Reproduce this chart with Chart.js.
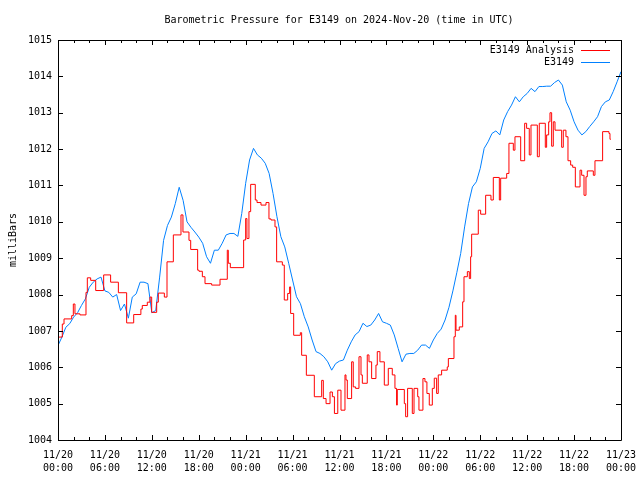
<!DOCTYPE html>
<html>
<head>
<meta charset="utf-8">
<script src="https://cdn.jsdelivr.net/npm/chart.js@4.4.1/dist/chart.umd.min.js"></script>
<style>
  body { margin: 0; background: #ffffff; }
</style>
</head>
<body>
<canvas id="grafico" width="640" height="480"></canvas>
<script>
// hours since 2024-11-20 00:00 UTC
let tituloGrafico = "Barometric Pressure for E3149 on 2024-Nov-20 (time in UTC)";
let tituloY = "milliBars";
let nomesSeries = ["E3149 Analysis", "E3149"];

let rotulosX = [
  ["11/20", "00:00"], ["11/20", "06:00"], ["11/20", "12:00"], ["11/20", "18:00"],
  ["11/21", "00:00"], ["11/21", "06:00"], ["11/21", "12:00"], ["11/21", "18:00"],
  ["11/22", "00:00"], ["11/22", "06:00"], ["11/22", "12:00"], ["11/22", "18:00"],
  ["11/23", "00:00"]
];
let rotulosY = ["1004", "1005", "1006", "1007", "1008", "1009", "1010", "1011", "1012", "1013", "1014", "1015"];

// analysis: step starts (hours) and values
let horasAnalise = [
  0, 0.55, 0.77, 1.75, 1.96, 2.17, 2.81, 3.58, 3.75, 4.18, 4.82, 5.84, 6.73, 7.72, 8.78, 9.68,
  10.6, 10.78, 11.42, 11.76, 11.98, 12.62, 12.83, 13.6, 13.94, 14.75, 15.73, 15.98, 16.75, 16.97,
  17.86, 18.03, 18.46, 18.8, 19.65, 20.72, 21.65, 21.78, 22.04, 23.74, 24.0, 24.16, 24.42, 24.64,
  25.23, 25.45, 25.96, 26.6, 26.98, 27.24, 27.75, 27.96, 28.69, 28.94, 29.37, 29.62, 29.75, 30.14,
  30.99, 31.16, 31.76, 32.78, 33.72, 33.93, 34.28, 34.79, 35.09, 35.35, 35.78, 36.19, 36.7, 36.83,
  37.0, 37.55, 37.76, 38.06, 38.49, 38.75, 38.92, 39.55, 39.77, 40.11, 40.66, 40.83, 41.17, 41.73,
  42.24, 42.75, 43.09, 43.3, 43.39, 44.29, 44.46, 44.71, 45.31, 45.53, 46.0, 46.16, 46.67, 46.93,
  47.18, 47.48, 47.87, 48.12, 48.42, 48.63, 49.06, 49.78, 49.92, 50.64, 50.81, 50.9, 51.32, 51.75,
  51.92, 52.35, 52.6, 52.77, 52.9, 53.75, 54.05, 54.69, 55.37, 55.67, 56.44, 56.61, 57.38, 57.67,
  58.23, 58.44, 59.17, 59.68, 59.93, 60.27, 60.49, 61.3, 61.55, 62.32, 62.49, 62.75, 62.92, 63.13,
  63.34, 63.56, 64.41, 64.62, 64.96, 65.22, 65.56, 65.82, 66.16, 66.76, 66.97, 67.27, 67.52, 67.69,
  68.46, 68.67, 69.65, 70.46, 70.59, 70.7
];
let pressaoAnalise = [
  1006.83, 1007.19, 1007.33, 1007.42, 1007.74, 1007.47, 1007.44, 1008.06, 1008.46, 1008.39, 1008.11, 1008.54, 1008.34, 1008.05, 1007.22, 1007.45,
  1007.6, 1007.7, 1007.79, 1007.93, 1007.51, 1007.79, 1008.04, 1007.93, 1008.9, 1009.64, 1010.19, 1009.72, 1009.49, 1009.24,
  1008.67, 1008.64, 1008.49, 1008.3, 1008.26, 1008.42, 1009.22, 1008.86, 1008.74, 1009.5, 1010.09, 1009.54, 1010.28, 1011.03,
  1010.6, 1010.53, 1010.46, 1010.53, 1010.08, 1010.05, 1009.86, 1008.9, 1008.81, 1007.85, 1008.03, 1008.21, 1007.48, 1006.88,
  1006.95, 1006.33, 1005.78, 1005.19, 1005.64, 1005.14, 1005.0, 1005.32, 1005.19, 1004.73, 1005.37, 1004.82, 1005.79, 1005.65,
  1005.14, 1006.15, 1005.46, 1005.42, 1006.29, 1005.79, 1005.56, 1006.34, 1006.15, 1005.69, 1006.06, 1006.43, 1006.15, 1005.51,
  1005.97, 1005.79, 1005.42, 1004.96, 1005.39, 1005.0, 1004.64, 1005.42, 1004.73, 1005.42, 1005.19, 1004.82, 1005.69, 1005.6,
  1005.28, 1004.96, 1005.42, 1005.7, 1005.28, 1005.79, 1005.92, 1006.01, 1006.24, 1006.84, 1007.43, 1007.02, 1007.11, 1007.8,
  1008.49, 1008.63, 1008.44, 1009.04, 1009.66, 1010.32, 1010.21, 1010.73, 1010.6, 1011.22, 1010.6, 1011.2, 1011.33, 1012.16,
  1011.97, 1012.34, 1011.68, 1012.71, 1012.57, 1011.84, 1012.66, 1011.79, 1012.71, 1012.05, 1012.39, 1012.75, 1013.0, 1012.08,
  1012.75, 1012.52, 1012.05, 1012.52, 1012.34, 1011.68, 1011.56, 1011.5, 1010.96, 1011.42, 1011.28, 1010.73, 1011.24, 1011.4,
  1011.28, 1011.68, 1012.48, 1012.43, 1012.27, 1012.27
];

// station: one reading every 30 minutes from 00:00
let pressaoEstacao = [
  1006.6, 1006.83, 1007.1, 1007.2, 1007.38, 1007.5, 1007.7, 1007.88, 1008.2, 1008.34, 1008.43, 1008.48,
  1008.1, 1008.06, 1007.93, 1008.0, 1007.56, 1007.74, 1007.35, 1007.93, 1008.02, 1008.34, 1008.34, 1008.3,
  1007.5, 1007.56, 1008.48, 1009.49, 1009.9, 1010.13, 1010.5, 1010.95, 1010.59, 1010.0, 1009.85, 1009.72,
  1009.58, 1009.41, 1009.04, 1008.86, 1009.22, 1009.22, 1009.41, 1009.64, 1009.68, 1009.68, 1009.6, 1010.23,
  1011.06, 1011.7, 1012.02, 1011.84, 1011.75, 1011.61, 1011.33, 1010.78, 1010.14, 1009.59, 1009.31, 1008.86,
  1008.4, 1007.94, 1007.75, 1007.39, 1007.11, 1006.75, 1006.43, 1006.38, 1006.29, 1006.15, 1005.92, 1006.1,
  1006.17, 1006.2, 1006.47, 1006.7, 1006.89, 1006.98, 1007.21, 1007.12, 1007.16, 1007.3, 1007.48, 1007.25,
  1007.21, 1007.16, 1006.89, 1006.52, 1006.15, 1006.36, 1006.38, 1006.38, 1006.47, 1006.61, 1006.61, 1006.52,
  1006.75, 1006.93, 1007.05, 1007.3, 1007.65, 1008.1, 1008.6, 1009.13, 1009.86, 1010.5, 1010.96, 1011.1,
  1011.47, 1012.02, 1012.2, 1012.43, 1012.5, 1012.39, 1012.8, 1013.03, 1013.21, 1013.44, 1013.3, 1013.44,
  1013.53, 1013.67, 1013.58, 1013.72, 1013.72, 1013.73, 1013.73, 1013.83, 1013.9, 1013.76, 1013.3, 1013.07,
  1012.75, 1012.52, 1012.39, 1012.48, 1012.62, 1012.75, 1012.89, 1013.17, 1013.3, 1013.35, 1013.58, 1013.85,
  1014.13
];

let corAnalise = "#ff0000";
let corEstacao = "#0080ff";
let fonte = "10px 'DejaVu Sans Mono'";

let pontosAnalise = [];
for (let i = 0; i < horasAnalise.length; i++) {
  pontosAnalise.push({ x: horasAnalise[i], y: pressaoAnalise[i] });
}
let pontosEstacao = [];
for (let i = 0; i < pressaoEstacao.length; i++) {
  pontosEstacao.push({ x: i * 0.5, y: pressaoEstacao[i] });
}

// frame, inward ticks, title, y label and legend
let pluginMoldura = {
  id: "moldura",
  afterDraw(chart) {
    let ctx = chart.ctx;
    let area = chart.chartArea;
    let sx = chart.scales.x;
    let sy = chart.scales.y;

    ctx.save();
    ctx.strokeStyle = "#000000";
    ctx.lineWidth = 1;
    ctx.beginPath();
    ctx.rect(Math.round(area.left) + 0.5, Math.round(area.top) + 0.5,
      Math.round(area.right - area.left), Math.round(area.bottom - area.top));

    for (let h = 0; h <= 72; h += 2) {
      let px = Math.round(sx.getPixelForValue(h)) + 0.5;
      let tam = (h % 6 == 0) ? 5 : 3;
      ctx.moveTo(px, area.bottom);
      ctx.lineTo(px, area.bottom - tam);
      ctx.moveTo(px, area.top);
      ctx.lineTo(px, area.top + tam);
    }
    for (let v = 1004; v <= 1015; v++) {
      let py = Math.round(sy.getPixelForValue(v)) + 0.5;
      ctx.moveTo(area.left, py);
      ctx.lineTo(area.left + 5, py);
      ctx.moveTo(area.right, py);
      ctx.lineTo(area.right - 5, py);
    }
    ctx.stroke();

    ctx.fillStyle = "#000000";
    ctx.font = fonte;
    ctx.textAlign = "center";
    ctx.textBaseline = "middle";
    ctx.fillText(tituloGrafico, 339, 20);

    ctx.save();
    ctx.translate(13, 240);
    ctx.rotate(-Math.PI / 2);
    ctx.fillText(tituloY, 0, 0);
    ctx.restore();

    let cores = [corAnalise, corEstacao];
    for (let i = 0; i < nomesSeries.length; i++) {
      let y = 50 + i * 12;
      ctx.textAlign = "right";
      ctx.fillStyle = "#000000";
      ctx.fillText(nomesSeries[i], 574, y);
      ctx.strokeStyle = cores[i];
      ctx.beginPath();
      ctx.moveTo(581, y + 0.5);
      ctx.lineTo(610, y + 0.5);
      ctx.stroke();
    }
    ctx.restore();
  }
};

Chart.defaults.font.family = "'DejaVu Sans Mono'";
Chart.defaults.font.size = 10;
Chart.defaults.color = "#000000";

let ctx = document.getElementById("grafico");

new Chart(ctx, {
  type: "line",
  data: {
    datasets: [
      {
        label: nomesSeries[0],
        data: pontosAnalise,
        borderColor: corAnalise,
        borderWidth: 1,
        pointRadius: 0,
        stepped: "before",
        fill: false
      },
      {
        label: nomesSeries[1],
        data: pontosEstacao,
        borderColor: corEstacao,
        borderWidth: 1,
        pointRadius: 0,
        tension: 0,
        fill: false
      }
    ]
  },
  options: {
    responsive: false,
    animation: false,
    devicePixelRatio: 1,
    layout: {
      padding: { top: 40, right: 19, left: 0, bottom: 0 }
    },
    plugins: {
      legend: { display: false },
      title: { display: false },
      tooltip: { enabled: false }
    },
    scales: {
      x: {
        type: "linear",
        min: 0,
        max: 72,
        grid: { display: false, drawTicks: false },
        border: { display: false },
        afterFit(eixo) {
          eixo.height = 40;
          eixo.paddingLeft = 0;
          eixo.paddingRight = 0;
        },
        ticks: {
          stepSize: 6,
          maxRotation: 0,
          autoSkip: false,
          padding: 9,
          font: { size: 10, lineHeight: 1.3 },
          callback: function (valor) {
            return rotulosX[Math.round(valor / 6)];
          }
        }
      },
      y: {
        min: 1004,
        max: 1015,
        grid: { display: false, drawTicks: false },
        border: { display: false },
        afterFit(eixo) {
          eixo.width = 58;
          eixo.paddingTop = 0;
          eixo.paddingBottom = 0;
        },
        ticks: {
          stepSize: 1,
          padding: 6,
          callback: function (valor) {
            return rotulosY[Math.round(valor - 1004)];
          }
        }
      }
    }
  },
  plugins: [pluginMoldura]
});
</script>
</body>
</html>
